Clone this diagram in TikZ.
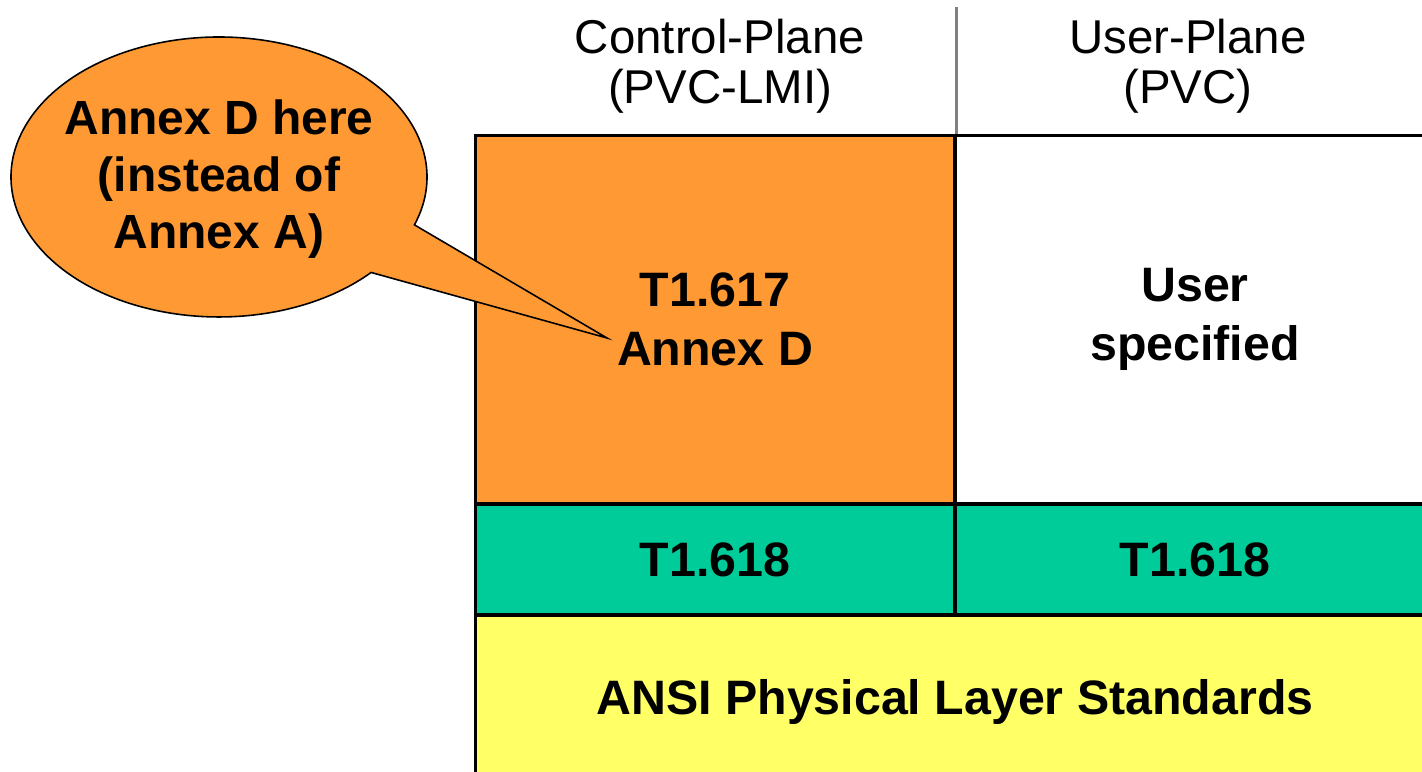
\documentclass[tikz,border=0pt]{standalone}
\usepackage{fontspec}
\setmainfont{Liberation Sans}

\definecolor{annexorange}{HTML}{FF9933}
\definecolor{coregreen}{HTML}{00CC99}
\definecolor{phyyellow}{HTML}{FFFF66}

\begin{document}
\begin{tikzpicture}[x=0.02cm, y=0.02cm,
    cell/.style={draw, line width=1.7pt, inner sep=0pt, align=center,
        font=\fontsize{27.5}{33.5}\selectfont\bfseries},
    head/.style={align=center, font=\fontsize{27}{28.5}\selectfont}]
    \useasboundingbox (0,0) rectangle (1422,771);

    % Header
    \node[head] (cphead) at (720,705) {Control-Plane\\(PVC-LMI)};
    \node[head] (uphead) at (1188,705) {User-Plane\\(PVC)};

    % Plane cells
    \node[cell, fill=annexorange, minimum width=9.6cm, minimum height=7.38cm]
        (lmi) at (715,451.5) {T1.617\\Annex D};
    \node[cell, fill=white, minimum width=9.6cm, minimum height=7.38cm]
        (user) at (1195,451.5) {User\\specified};

    % Divider between the headers
    \draw[gray, line width=1.4pt] (lmi.north east) -- ++(0,127);

    % Core layer
    \node[cell, fill=coregreen, minimum width=9.6cm, minimum height=2.22cm]
        (coreL) at (715,211.5) {T1.618};
    \node[cell, fill=coregreen, minimum width=9.6cm, minimum height=2.22cm]
        (coreR) at (1195,211.5) {T1.618};

    % Physical layer
    \node[cell, fill=phyyellow, minimum width=19.2cm, minimum height=3.5cm]
        (phy) at (955,68.5) {ANSI Physical Layer Standards};

    % Callout
    \coordinate (bubble) at (219,594);
    \coordinate (tip) at (607,433);
    \draw[fill=annexorange, line width=0.9pt, line join=miter]
        (bubble) ++(-20:4.16cm and 2.8cm)
        arc[start angle=-20, end angle=317, x radius=4.16cm, y radius=2.8cm]
        -- (tip) -- cycle;
    \node[align=center, font=\fontsize{27.3}{32.5}\selectfont\bfseries]
        (note) at (219,592) {Annex D here\\(instead of\\Annex A)};

\end{tikzpicture}
\end{document}
